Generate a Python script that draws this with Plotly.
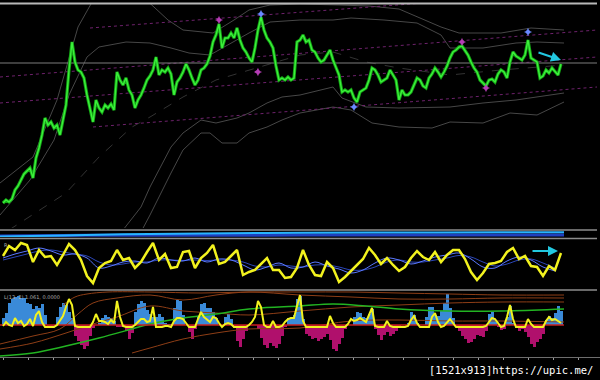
import plotly.graph_objects as go

# ---------------- data ----------------
price = [1.297, 1.300, 1.298, 1.301, 1.310, 1.314, 1.320, 1.326, 1.329, 1.332,
         1.322, 1.342, 1.352, 1.365, 1.382, 1.375, 1.378, 1.372, 1.375, 1.365,
         1.380, 1.395, 1.430, 1.458, 1.438, 1.430, 1.428, 1.422, 1.405, 1.392,
         1.378, 1.400, 1.392, 1.388, 1.395, 1.392, 1.396, 1.390, 1.428, 1.420,
         1.415, 1.422, 1.410, 1.405, 1.392, 1.400, 1.405, 1.412, 1.420, 1.424,
         1.430, 1.443, 1.425, 1.430, 1.428, 1.432, 1.426, 1.405, 1.418, 1.422,
         1.428, 1.436, 1.430, 1.422, 1.415, 1.420, 1.430, 1.432, 1.436, 1.444,
         1.458, 1.465, 1.476, 1.452, 1.462, 1.462, 1.467, 1.462, 1.472, 1.460,
         1.452, 1.448, 1.442, 1.438, 1.452, 1.470, 1.483, 1.470, 1.462, 1.458,
         1.452, 1.434, 1.420, 1.422, 1.420, 1.423, 1.420, 1.422, 1.458, 1.460,
         1.465, 1.458, 1.460, 1.450, 1.448, 1.442, 1.438, 1.440, 1.445, 1.450,
         1.440, 1.432, 1.425, 1.408, 1.410, 1.408, 1.410, 1.402, 1.398, 1.408,
         1.410, 1.412, 1.420, 1.432, 1.430, 1.425, 1.418, 1.420, 1.422, 1.430,
         1.425, 1.420, 1.400, 1.410, 1.405, 1.405, 1.408, 1.416, 1.422, 1.420,
         1.414, 1.412, 1.422, 1.426, 1.432, 1.428, 1.423, 1.428, 1.434, 1.442,
         1.448, 1.450, 1.453, 1.454, 1.450, 1.445, 1.438, 1.432, 1.428, 1.420,
         1.417, 1.414, 1.420, 1.421, 1.418, 1.426, 1.430, 1.428, 1.422, 1.438,
         1.448, 1.444, 1.442, 1.440, 1.445, 1.460, 1.442, 1.440, 1.438, 1.422,
         1.424, 1.430, 1.427, 1.432, 1.428, 1.425, 1.436]
bars = list(range(len(price)))

# envelope / band lines (bar index, price)
ub_outer_x = [-1, 10, 18, 25, 31, 39, 46, 55, 60, 70, 77, 82, 89, 99, 112, 122, 132, 139, 146, 152, 166, 176, 187]
ub_outer_y = [1.317, 1.343, 1.400, 1.473, 1.505, 1.520, 1.505, 1.480, 1.470, 1.467, 1.480, 1.490, 1.495,
              1.496, 1.495, 1.494, 1.491, 1.482, 1.473, 1.467, 1.467, 1.472, 1.470]
ub_inner_x = [-1, 9, 17, 22, 28, 32, 41, 49, 56, 62, 69, 76, 82, 89, 99, 110, 116, 127, 138, 146, 149, 160, 171, 178, 187]
ub_inner_y = [1.285, 1.320, 1.360, 1.405, 1.443, 1.453, 1.458, 1.457, 1.452, 1.447, 1.445, 1.457, 1.467,
              1.478, 1.480, 1.480, 1.482, 1.480, 1.477, 1.465, 1.452, 1.452, 1.457, 1.458, 1.457]
lb_inner_x = [40, 46, 49, 56, 60, 66, 71, 78, 82, 88, 93, 99, 110, 113, 121, 132, 149, 160, 171, 187]
lb_inner_y = [1.270, 1.293, 1.313, 1.353, 1.367, 1.380, 1.377, 1.382, 1.387, 1.397, 1.403, 1.405,
              1.413, 1.402, 1.393, 1.392, 1.393, 1.397, 1.400, 1.407]
lb_outer_x = [46, 49, 56, 60, 66, 69, 73, 78, 82, 88, 93, 99, 110, 116, 123, 132, 143, 149, 160, 169, 178, 187]
lb_outer_y = [1.268, 1.285, 1.327, 1.350, 1.367, 1.367, 1.357, 1.357, 1.367, 1.373, 1.380, 1.387,
              1.393, 1.390, 1.377, 1.373, 1.372, 1.378, 1.377, 1.387, 1.385, 1.398]
ma_x = [2, 21, 32, 43, 49, 60, 71, 82, 99, 110, 121, 132, 149, 166, 187]
ma_y = [1.270, 1.307, 1.343, 1.373, 1.383, 1.403, 1.420, 1.430, 1.445, 1.448, 1.438, 1.432, 1.425, 1.430, 1.435]

# ascending channel (dotted magenta)
channel_x = [[29, 198], [-1, 198], [-1, 198], [30, 198]]
channel_y = [[1.472, 1.510], [1.423, 1.470], [1.397, 1.443], [1.373, 1.413]]
level_price = 1.437

# fractal marks
mag_x = [72, 85, 153, 161]
mag_y = [1.480, 1.428, 1.458, 1.412]
blue_x = [86, 117, 175]
blue_y = [1.486, 1.393, 1.468]
arrow_main = [178, 1.448, 186, 1.440]

# thin band pane
band_x = [-1, 20, 40, 66, 100, 133, 166, 187]
band_cyan = [0.8, 2.5, 4.5, 6.0, 7.0, 7.5, 7.8, 8.0]
band_blue = [1.5, 2.5, 3.0, 3.0, 3.2, 3.5, 3.5, 3.5]

# oscillator pane (every 2 bars)
osc_x = list(range(0, 187, 2))
osc = [64, 84, 76, 90, 86, 52, 76, 62, 64, 46,
       66, 88, 76, 56, 24, 10, 40, 50, 54, 76,
       56, 60, 40, 52, 72, 90, 56, 68, 40, 42,
       72, 74, 40, 60, 70, 86, 48, 52, 64, 76,
       26, 32, 36, 48, 60, 36, 36, 20, 22, 40,
       76, 46, 26, 24, 52, 40, 12, 22, 34, 48,
       58, 80, 66, 48, 60, 46, 34, 42, 60, 74,
       62, 56, 72, 52, 66, 76, 76, 58, 32, 16,
       30, 48, 50, 54, 72, 80, 58, 64, 44, 42,
       24, 44, 36, 70]
sig_x = list(range(0, 187, 4))
sig1 = [60, 68, 74, 80, 74, 66, 68, 60, 40, 44, 52, 54, 50, 60, 56, 54, 60, 52, 58, 56,
        46, 36, 42, 50, 40, 42, 52, 44, 38, 30, 36, 50, 60, 56, 48, 54, 62, 66, 70, 58,
        42, 40, 54, 62, 56, 42, 34]
sig2 = [56, 62, 68, 74, 76, 72, 68, 64, 52, 46, 48, 52, 52, 56, 56, 55, 56, 55, 56, 56,
        52, 44, 42, 46, 44, 42, 46, 46, 42, 36, 36, 42, 52, 56, 52, 52, 56, 60, 65, 62,
        52, 44, 48, 56, 58, 50, 40]
arrow_osc = [176, 74, 185, 74]

# histogram pane
hist = [7, 12, 22, 26, 28, 29, 27, 27, 22, 21,
        16, 19, 17, 21, 10, -1, -2, -2, 8, 18,
        22, 20, 13, 7, -11, -16, -20, -24, -21, -11,
        -3, 0, 2, 7, 10, 8, 7, 4, -2, -2,
        -2, -6, -14, -8, 13, 21, 24, 22, 15, 11,
        8, 8, 11, 8, 2, 1, 1, 17, 25, 24,
        10, 0, -7, -14, -4, 8, 21, 22, 17, 17,
        13, 7, 0, 0, 8, 11, 6, -3, -16, -22,
        -14, -6, 0, 0, 0, -4, -13, -20, -23, -18,
        -21, -23, -19, -11, -2, 7, 8, 10, 26, 29,
        6, -9, -11, -14, -13, -16, -14, -12, -9, -15,
        -24, -26, -19, -13, -4, 0, 0, 8, 13, 12,
        8, 7, 11, 16, -4, -10, -15, -10, -7, -11,
        -9, -6, -3, 0, 0, 2, 13, 10, 2, 0,
        0, 8, 18, 18, 10, 9, 14, 22, 31, 17,
        7, -2, -6, -11, -14, -18, -17, -14, -10, -11,
        -12, -6, 11, 13, 5, -2, -5, -4, 8, 19,
        2, -3, -6, -4, -7, -12, -19, -22, -17, -14,
        -9, 5, 9, 7, 12, 19, 14]
hline = [-1, 3, 0, -1, 7, 2, 4, -1, 1, 6,
         -1, 10, 14, 3, -2, -2, -2, -2, 0, 4,
         9, 18, 26, 20, -1, -2, -2, -2, -2, -2,
         3, 11, 4, 4, 3, 1, 5, 2, 24, 8,
         -1, -2, -2, -2, 0, 3, 6, 6, 3, 4,
         18, -2, -2, -2, -1, -1, -2, 4, 7, 7,
         6, 2, -2, -2, -2, 6, 13, 8, 5, 3,
         8, 7, 2, -2, 1, 2, 1, -2, -2, -2,
         -2, -2, 0, 3, 8, 24, 18, 0, -2, -2,
         4, -2, -2, -1, 3, 6, 7, 7, 19, 30,
         4, -2, -2, -2, -2, -2, -2, -2, -2, 9,
         2, -2, -2, -2, -2, 1, 6, 4, 5, 7,
         5, 3, 10, 17, -1, -2, -2, -2, 4, -1,
         -2, -2, -2, -2, -2, -1, 5, 9, 2, -2,
         -2, -2, -2, 8, 12, 3, -2, -1, 2, 6,
         2, -2, -2, -2, -2, -2, -2, -2, -2, -2,
         -2, -1, 3, 7, 6, 2, -2, -1, 8, 20,
         6, -2, -2, -2, -2, 6, 1, -2, -2, -2,
         -2, 4, 8, 5, 6, 4, 2]
green_x = [-1, 10, 21, 32, 43, 49, 60, 71, 82, 99, 110, 121, 132, 149, 166, 187]
green_y = [-31, -28, -21, -13, -4, 1, 7, 11, 16, 19, 21, 19, 16, 14, 14, 16]
orange_lines = [
    ([20, 24, 28, 35, 49, 66, 82, 99, 116, 132, 149, 166, 187],
     [20, 28, 31, 33, 33, 32, 33, 33, 33, 32, 31, 30, 30]),
    ([-1, 10, 19, 25, 30, 38, 49, 60, 71, 82, 99, 116, 132, 149, 166, 187],
     [-19, -11, -4, 11, 22, 27, 30, 25, 30, 33, 30, 28, 26, 26, 27, 27]),
    ([-1, 10, 21, 30, 38, 49, 60, 71, 82, 99, 116, 132, 149, 166, 187],
     [-24, -18, -8, 1, 8, 19, 14, 12, 10, 14, 18, 20, 22, 23, 23]),
    ([43, 49, 60, 71, 82, 99, 116, 132, 149, 166, 187],
     [-28, -23, -14, -8, -4, -3, 4, 5, 4, 4, 3]),
]
label_hist = "L(12, 2) 1.061, 0.0000"
label_osc = "R"
watermark = "[1521x913]https://upic.me/"

# ---------------- figure ----------------
fig = go.Figure()
GREY = "#474747"

# main pane
for xs, ys in [(ub_outer_x, ub_outer_y), (ub_inner_x, ub_inner_y),
               (lb_inner_x, lb_inner_y), (lb_outer_x, lb_outer_y)]:
    fig.add_trace(go.Scatter(x=xs, y=ys, mode="lines", line=dict(color=GREY, width=1),
                             yaxis="y", hoverinfo="skip"))
fig.add_trace(go.Scatter(x=ma_x, y=ma_y, mode="lines",
                         line=dict(color="#333333", width=1, dash="dash"), yaxis="y"))
for xs, ys in zip(channel_x, channel_y):
    fig.add_trace(go.Scatter(x=xs, y=ys, mode="lines",
                             line=dict(color="#6e226c", width=1, dash="dot"), yaxis="y"))
fig.add_trace(go.Scatter(x=[-1, 198], y=[level_price, level_price], mode="lines",
                         line=dict(color="#7c7c7c", width=1.2), yaxis="y"))
fig.add_trace(go.Scatter(x=bars, y=price, mode="lines",
                         line=dict(color="#13a313", width=3.2), yaxis="y"))
fig.add_trace(go.Scatter(x=bars, y=price, mode="lines",
                         line=dict(color="#3cf03c", width=1.4), yaxis="y"))
fig.add_trace(go.Scatter(x=mag_x, y=mag_y, mode="markers",
                         marker=dict(symbol="star-diamond", size=6, color="#b43cb4"), yaxis="y"))
fig.add_trace(go.Scatter(x=blue_x, y=blue_y, mode="markers",
                         marker=dict(symbol="star-diamond", size=6, color="#6a88ff"), yaxis="y"))

# band pane
fig.add_trace(go.Scatter(x=band_x, y=band_blue, mode="lines", line=dict(color="#1f3fbf", width=3),
                         yaxis="y2", line_shape="spline"))
fig.add_trace(go.Scatter(x=band_x, y=band_cyan, mode="lines", line=dict(color="#28b4ff", width=2),
                         yaxis="y2", line_shape="spline"))

# oscillator pane
fig.add_trace(go.Scatter(x=sig_x, y=sig2, mode="lines", line=dict(color="#2b46b8", width=1),
                         yaxis="y3", line_shape="spline"))
fig.add_trace(go.Scatter(x=sig_x, y=sig1, mode="lines", line=dict(color="#5a78ff", width=1),
                         yaxis="y3", line_shape="spline"))
fig.add_trace(go.Scatter(x=osc_x, y=osc, mode="lines", line=dict(color="#f2f21e", width=2.5),
                         yaxis="y3"))

# histogram pane
pos = [v if v > 0 else 0 for v in hist]
neg = [v if v < 0 else 0 for v in hist]
fig.add_trace(go.Bar(x=bars, y=pos, marker=dict(color="#3a8ad8", line=dict(width=0)), yaxis="y4"))
fig.add_trace(go.Bar(x=bars, y=neg, marker=dict(color="#b0106c", line=dict(width=0)), yaxis="y4"))
for xs, ys in orange_lines:
    fig.add_trace(go.Scatter(x=xs, y=ys, mode="lines", line=dict(color="#8e3e16", width=1),
                             yaxis="y4", line_shape="spline"))
fig.add_trace(go.Scatter(x=green_x, y=green_y, mode="lines", line=dict(color="#22b422", width=1.5),
                         yaxis="y4", line_shape="spline"))
fig.add_trace(go.Scatter(x=[-1, 187], y=[0, 0], mode="lines", line=dict(color="#c81e1e", width=1.5),
                         yaxis="y4"))
fig.add_trace(go.Scatter(x=bars, y=hline, mode="lines", line=dict(color="#f2f21e", width=2),
                         yaxis="y4"))

H = 380.0
def py(v):
    return 1 - v / H

fig.update_layout(
    width=600, height=380, margin=dict(l=0, r=0, t=0, b=0),
    paper_bgcolor="black", plot_bgcolor="black", showlegend=False,
    barmode="relative", bargap=0.0,
    xaxis=dict(domain=[0, 1], range=[-1, 199], anchor="y4", showgrid=False, zeroline=False,
               showline=True, linecolor="#6e6e6e", linewidth=1, ticks="outside", ticklen=2,
               tickcolor="#9a9a9a", tick0=0, dtick=25 / 3, showticklabels=False),
    yaxis=dict(domain=[py(228), py(4)], range=[1.272, 1.496], visible=False),
    yaxis2=dict(domain=[py(237), py(231)], range=[0, 10], visible=False, anchor="x"),
    yaxis3=dict(domain=[py(288), py(238)], range=[0, 100], visible=False, anchor="x"),
    yaxis4=dict(domain=[py(357), py(291)], range=[-32, 34], visible=False, anchor="x"),
)

# pane separators
for yy, col, w in [(3.5, "#b8b8b8", 2), (230, "#8c8c8c", 1.5), (238.5, "#8c8c8c", 1.5),
                   (290, "#8c8c8c", 1.5)]:
    fig.add_shape(type="line", xref="paper", yref="paper", x0=0, x1=597 / 600,
                  y0=py(yy), y1=py(yy), line=dict(color=col, width=w))

# arrows
fig.add_annotation(x=arrow_main[2], y=arrow_main[3], ax=arrow_main[0], ay=arrow_main[1],
                   xref="x", yref="y", axref="x", ayref="y", text="", showarrow=True,
                   arrowhead=2, arrowsize=1, arrowwidth=2, arrowcolor="#22c8e0")
fig.add_annotation(x=arrow_osc[2], y=arrow_osc[3], ax=arrow_osc[0], ay=arrow_osc[1],
                   xref="x", yref="y3", axref="x", ayref="y3", text="", showarrow=True,
                   arrowhead=2, arrowsize=1, arrowwidth=2, arrowcolor="#22c8e0")

# labels
fig.add_annotation(x=2 / 600, y=py(292), xref="paper", yref="paper", text=label_hist,
                   showarrow=False, xanchor="left", yanchor="top",
                   font=dict(family="DejaVu Sans", size=5, color="#b0b0b0"))
fig.add_annotation(x=2 / 600, y=py(240), xref="paper", yref="paper", text=label_osc,
                   showarrow=False, xanchor="left", yanchor="top",
                   font=dict(family="DejaVu Sans", size=5, color="#b0b0b0"))
fig.add_annotation(x=595 / 600, y=py(370), xref="paper", yref="paper", text=watermark,
                   showarrow=False, xanchor="right", yanchor="middle",
                   font=dict(family="DejaVu Sans Mono", size=10.5, color="white"))

fig.write_html("out.html")
